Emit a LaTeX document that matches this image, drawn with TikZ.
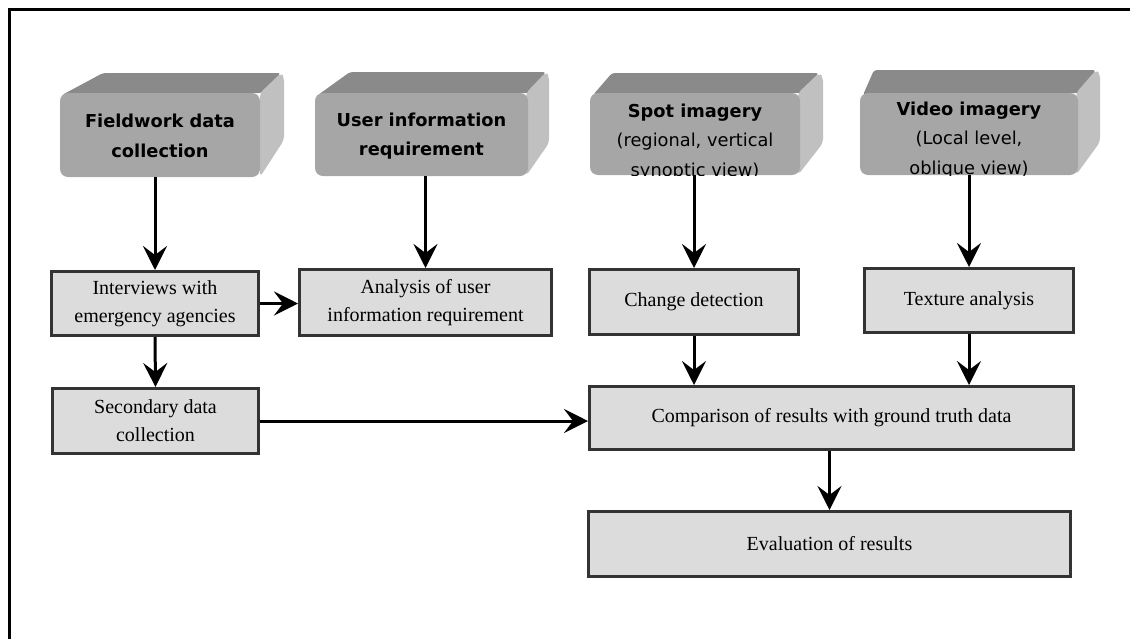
\documentclass[tikz,border=0pt]{standalone}
\usepackage{fontspec}
\setmainfont{Liberation Serif}
\newfontfamily\boxsans{DejaVu Sans}
\usetikzlibrary{arrows.meta}
\definecolor{frontgray}{RGB}{166,166,166}
\definecolor{topgray}{RGB}{138,138,138}
\definecolor{sidegray}{RGB}{192,192,192}
\definecolor{lowfill}{RGB}{220,220,220}
\definecolor{boxborder}{RGB}{51,51,51}
\begin{document}
\begin{tikzpicture}[x=1pt,y=-1pt,
  lowbox/.style={draw=boxborder, line width=3pt, fill=lowfill, align=center,
    font=\fontsize{20}{28}\selectfont, inner sep=0pt},
  frontface/.style={fill=frontgray, rounded corners=8pt, inner sep=0pt},
  topface/.style={fill=topgray, rounded corners=3pt},
  sideface/.style={fill=sidegray, rounded corners=4pt},
  toptext/.style={align=center, font=\boxsans\fontsize{17.8}{29.5}\selectfont, inner sep=0pt},
  arr/.style={line width=3pt, -{Stealth[length=24pt,width=24pt,inset=9pt]}}
]
\useasboundingbox (0,0) rectangle (1130,638);
% frame (only top and left edges visible)
\draw[line width=3pt] (9,645) -- (9,9) -- (1140,9);

% ---------- 3D boxes ----------
% box 1
\path[topface] (62,95) -- (103,73) -- (281,73) -- (262,93) -- cycle;
\path[sideface] (260,93) -- (281,73) -- (284,77) -- (284,140) -- (260,177) -- cycle;
\node[frontface, minimum width=200pt, minimum height=84pt] (f1) at (160,135) {};
\node[toptext] (t1) at (160,136) {\bfseries Fieldwork data\\\bfseries collection};
% box 2
\path[topface] (318,95) -- (350,72) -- (546,72) -- (530,93) -- cycle;
\path[sideface] (526,93) -- (546,72) -- (549,76) -- (549,143) -- (526,176) -- cycle;
\node[frontface, minimum width=213pt, minimum height=83pt] (f2) at (421.5,134.5) {};
\node[toptext] (t2) at (421.5,136) {\bfseries User information\\\bfseries requirement};
% box 3
\path[topface] (593,95) -- (612,73) -- (819,73) -- (802,93) -- cycle;
\path[sideface] (798,93) -- (819,73) -- (823,77) -- (823,143) -- (798,175) -- cycle;
\node[frontface, minimum width=210pt, minimum height=82pt] (f3) at (695,134) {};
\begin{scope}
  \clip[rounded corners=8pt] (590,93) rectangle (800,175);
  \node[toptext] (t3) at (695,142) {\bfseries Spot imagery\\(regional, vertical\\synoptic view)};
\end{scope}
% box 4
\path[topface] (863,95) -- (874,70) -- (1096,70) -- (1080,93) -- cycle;
\path[sideface] (1076,93) -- (1096,70) -- (1100,74) -- (1100,142) -- (1076,175) -- cycle;
\node[frontface, minimum width=218pt, minimum height=82pt] (f4) at (969,134) {};
\begin{scope}
  \clip[rounded corners=8pt] (860,93) rectangle (1078,175);
  \node[toptext] (t4) at (969,140) {\bfseries Video imagery\\(Local level,\\oblique view)};
\end{scope}

% ---------- lower boxes ----------
\node[lowbox, minimum width=207pt, minimum height=64pt] (iv) at (155,303.5) {Interviews with\\emergency agencies};
\node[lowbox, minimum width=252pt, minimum height=66pt] (an) at (425.5,302.5) {Analysis of user\\information requirement};
\node[lowbox, minimum width=206pt, minimum height=65pt] (sec) at (155.5,421) {Secondary data\\collection};
\node[lowbox, minimum width=209pt, minimum height=65pt] (cd) at (694,302) {Change detection};
\node[lowbox, minimum width=209pt, minimum height=64pt] (tx) at (969,300.5) {Texture analysis};
\node[lowbox, minimum width=484pt, minimum height=63pt] (cmp) at (831.5,418) {Comparison of results with ground truth data};
\node[lowbox, minimum width=482pt, minimum height=65pt] (ev) at (829.5,544) {Evaluation of results};

% ---------- connectors ----------
\draw[arr] (iv.north |- f1.south) -- (iv.north);
\draw[arr] (an.north |- f2.south) -- (an.north);
\draw[arr] (cd.north |- f3.south) -- (cd.north);
\draw[arr] (tx.north |- f4.south) -- (tx.north);
\draw[arr] (iv.east) -- (an.west |- iv.east);
\draw[arr] (iv.south) -- (sec.north);
\draw[arr] (sec.east) -- (cmp.west |- sec.east);
\draw[arr] (cd.south) -- (cd.south |- cmp.north);
\draw[arr] (tx.south) -- (tx.south |- cmp.north);
\draw[arr] (ev.north |- cmp.south) -- (ev.north);
\end{tikzpicture}
\end{document}
